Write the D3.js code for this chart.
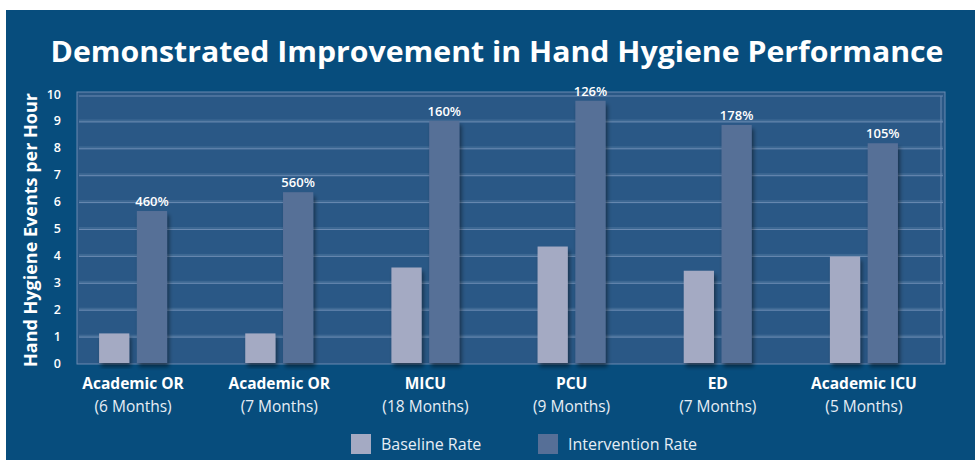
<!DOCTYPE html>
<html>
<head>
  <meta charset="UTF-8">
  <script src="https://cdn.jsdelivr.net/npm/d3@7"></script>
  <style>
      * { box-sizing: border-box; }
      html, body { margin: 0; padding: 0; background: #fff; }
      svg { display: block; font-family: "Open Sans", "Noto Sans", sans-serif; }
  </style>
</head>
<body>
<div id="root"></div>
<script>

  // data
  var units = ["Academic OR", "Academic OR ", "MICU", "PCU", "ED", "Academic ICU"];
  var periods = ["(6 Months)", "(7 Months)", "(18 Months)", "(9 Months)", "(7 Months)", "(5 Months)"];
  var baseline = [1.1, 1.1, 3.55, 4.33, 3.43, 3.96];
  var intervention = [5.65, 6.35, 9.0, 9.75, 8.85, 8.17];
  var gains = ["460%", "560%", "160%", "126%", "178%", "105%"];
  var seriesNames = ["Baseline Rate", "Intervention Rate"];
  var yTicks = [0, 1, 2, 3, 4, 5, 6, 7, 8, 9, 10];

  var W = 975, H = 460;
  var colors = { bg: "#074d7d", wall: "#2a5886", grid: "#6a8ab2", base: "#a4aac3", inter: "#566f97" };

  // set the ranges
  var x = d3.scaleBand().domain(units).range([60, 937]);
  var xs = d3.scaleBand().domain(seriesNames).range([-34, 34]).paddingInner(0.2);
  var y = d3.scaleLinear().domain([0, 10]).range([363, 94]);

  var svg = d3.select("#root").append("svg")
    .attr("width", W)
    .attr("height", H);

  var defs = svg.append("defs");
  var f = defs.append("filter").attr("id", "shadow")
    .attr("x", "-30%").attr("y", "-10%").attr("width", "160%").attr("height", "130%");
  f.append("feGaussianBlur").attr("in", "SourceAlpha").attr("stdDeviation", 2.2).attr("result", "b");
  f.append("feOffset").attr("dx", 2).attr("dy", 4).attr("result", "o");
  f.append("feComponentTransfer").append("feFuncA").attr("type", "linear").attr("slope", 0.45);
  var fm = f.append("feMerge");
  fm.append("feMergeNode");
  fm.append("feMergeNode").attr("in", "SourceGraphic");

  // blue card
  svg.append("rect")
    .attr("x", 6).attr("y", 10)
    .attr("width", W - 6).attr("height", H - 10)
    .attr("fill", colors.bg);

  // title
  svg.append("text")
    .attr("x", 497).attr("y", 62)
    .attr("text-anchor", "middle")
    .attr("fill", "#fff")
    .attr("font-size", 29)
    .attr("font-weight", 700)
    .attr("textLength", 893)
    .attr("lengthAdjust", "spacingAndGlyphs")
    .text("Demonstrated Improvement in Hand Hygiene Performance");

  // back wall
  svg.append("rect")
    .attr("x", 77).attr("y", y(10) - 2)
    .attr("width", 868).attr("height", y(0) - y(10) + 3)
    .attr("fill", colors.wall)
    .attr("stroke", colors.grid)
    .attr("stroke-width", 1);

  // gridlines, with a little ledge to look like the 3d original
  var grid = svg.append("g");
  grid.selectAll("rect.ledge")
    .data(yTicks.slice(1, 10))
    .join("rect")
    .attr("class", "ledge")
    .attr("x", 79).attr("width", 864)
    .attr("y", d => y(d) - 1.5).attr("height", 3)
    .attr("fill", "#3d6893");
  grid.selectAll("line")
    .data(yTicks.slice(1, 10))
    .join("line")
    .attr("x1", 79).attr("x2", 943)
    .attr("y1", d => y(d) + 1).attr("y2", d => y(d) + 1)
    .attr("stroke", colors.grid)
    .attr("stroke-width", 1);
  svg.append("line")
    .attr("x1", 941).attr("x2", 941)
    .attr("y1", y(10) + 2).attr("y2", y(0) - 1)
    .attr("stroke", colors.grid);
  svg.append("line")
    .attr("x1", 79).attr("x2", 943)
    .attr("y1", y(10) + 2).attr("y2", y(10) + 2)
    .attr("stroke", colors.grid);

  // y axis
  var yAxis = svg.append("g")
    .attr("transform", "translate(61,0)")
    .call(d3.axisLeft(y).tickValues(yTicks).tickSize(0).tickPadding(0));
  yAxis.select(".domain").remove();
  yAxis.selectAll("text")
    .attr("fill", "#fff")
    .attr("font-size", 12.5)
    .attr("font-weight", 600)
    .attr("font-family", "Open Sans, sans-serif");

  svg.append("text")
    .attr("transform", "translate(37,230) rotate(-90)")
    .attr("text-anchor", "middle")
    .attr("fill", "#fff")
    .attr("font-size", 18)
    .attr("font-weight", 700)
    .text("Hand Hygiene Events per Hour");

  // bars
  var groups = svg.append("g").selectAll("g")
    .data(units)
    .join("g")
    .attr("transform", d => "translate(" + (x(d) + x.bandwidth() / 2) + ",0)");

  groups.append("rect")
    .attr("x", xs("Baseline Rate"))
    .attr("width", xs.bandwidth())
    .attr("y", (d, i) => y(baseline[i]))
    .attr("height", (d, i) => y(0) - y(baseline[i]))
    .attr("fill", colors.base)
    .attr("filter", "url(#shadow)");

  groups.append("rect")
    .attr("x", xs("Intervention Rate"))
    .attr("width", xs.bandwidth())
    .attr("y", (d, i) => y(intervention[i]))
    .attr("height", (d, i) => y(0) - y(intervention[i]))
    .attr("fill", colors.inter)
    .attr("filter", "url(#shadow)");

  groups.append("text")
    .attr("x", xs("Intervention Rate") + xs.bandwidth() / 2)
    .attr("y", (d, i) => y(intervention[i]) - 5)
    .attr("text-anchor", "middle")
    .attr("fill", "#fff")
    .attr("font-size", 13)
    .attr("font-weight", 600)
    .text((d, i) => gains[i]);

  // category labels
  groups.append("text")
    .attr("y", 389)
    .attr("text-anchor", "middle")
    .attr("fill", "#fff")
    .attr("font-size", 15.5)
    .attr("font-weight", 700)
    .text(d => d.trim());

  groups.append("text")
    .attr("y", 412)
    .attr("text-anchor", "middle")
    .attr("fill", "#e6edf5")
    .attr("font-size", 15.5)
    .text((d, i) => periods[i]);

  // legend
  var legend = svg.append("g").selectAll("g")
    .data(seriesNames)
    .join("g")
    .attr("transform", (d, i) => "translate(" + [351, 538][i] + ",434)");
  legend.append("rect")
    .attr("width", 20).attr("height", 20)
    .attr("fill", (d, i) => i ? colors.inter : colors.base);
  legend.append("text")
    .attr("x", 30).attr("y", 16)
    .attr("fill", "#e6edf5")
    .attr("font-size", 16)
    .text(d => d);

</script>
</body>
</html>
